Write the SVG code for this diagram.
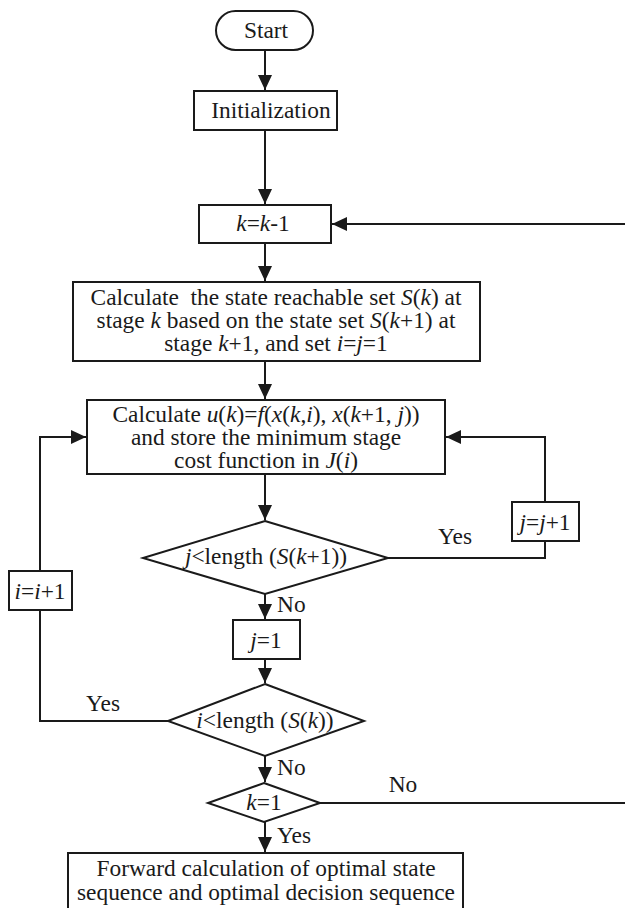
<svg xmlns="http://www.w3.org/2000/svg" width="625" height="908" viewBox="0 0 625 908">
<style>
text{font-family:"Liberation Serif","Times New Roman",serif;font-size:23.4px;fill:#1a1a1a;text-anchor:middle;white-space:pre}
.i{font-style:italic}
.s{fill:#fff;stroke:#1a1a1a;stroke-width:2}
.c{fill:none;stroke:#1a1a1a;stroke-width:2}
.l{text-anchor:start}
</style>
<defs>
<marker id="a" markerUnits="userSpaceOnUse" markerWidth="16" markerHeight="14" refX="15" refY="7" orient="auto">
<path d="M0,0 L15,7 L0,14 z" fill="#1a1a1a"/>
</marker>
</defs>
<rect width="625" height="908" fill="#fff"/>
<g id="connectors">
<path class="c" d="M265,50 V90" marker-end="url(#a)"/>
<path class="c" d="M265,130 V204" marker-end="url(#a)"/>
<path class="c" d="M265,243 V281" marker-end="url(#a)"/>
<path class="c" d="M265,361 V399" marker-end="url(#a)"/>
<path class="c" d="M265,474 V520" marker-end="url(#a)"/>
<path class="c" d="M265,593 V619" marker-end="url(#a)"/>
<path class="c" d="M265,659 V683" marker-end="url(#a)"/>
<path class="c" d="M265,756 V782" marker-end="url(#a)"/>
<path class="c" d="M265,822 V852" marker-end="url(#a)"/>
<path class="c" d="M388,558 H545 V541"/>
<path class="c" d="M545,502 V437 H446" marker-end="url(#a)"/>
<path class="c" d="M168,721 H40 V610"/>
<path class="c" d="M40,571 V437 H86" marker-end="url(#a)"/>
<path class="c" d="M320,803 H630 V224 H332" marker-end="url(#a)"/>
<text x="455" y="544">Yes</text>
<text class="l" x="277" y="612">No</text>
<text x="103" y="711">Yes</text>
<text class="l" x="277" y="775">No</text>
<text x="403" y="792">No</text>
<text class="l" x="277" y="843">Yes</text>
</g>
<g id="start">
<rect class="s" x="216" y="11" width="97" height="39" rx="19.5"/>
<text x="266" y="38">Start</text>
</g>
<g id="init">
<rect class="s" x="194" y="91" width="143" height="39"/>
<text x="271" y="118">Initialization</text>
</g>
<g id="kdec">
<rect class="s" x="199" y="205" width="132" height="38"/>
<text x="263" y="231"><tspan class="i">k</tspan>=<tspan class="i">k</tspan>-1</text>
</g>
<g id="reach">
<rect class="s" x="73" y="282" width="407" height="79"/>
<text x="276" y="305">Calculate  the state reachable set <tspan class="i">S</tspan>(<tspan class="i">k</tspan>) at</text>
<text x="276" y="328">stage <tspan class="i">k</tspan> based on the state set <tspan class="i">S</tspan>(<tspan class="i">k</tspan>+1) at</text>
<text x="276" y="351">stage <tspan class="i">k</tspan>+1, and set <tspan class="i">i</tspan>=<tspan class="i">j</tspan>=1</text>
</g>
<g id="calc">
<rect class="s" x="87" y="400" width="358" height="74"/>
<text x="266" y="422">Calculate <tspan class="i">u</tspan>(<tspan class="i">k</tspan>)=<tspan class="i">f</tspan>(<tspan class="i">x</tspan>(<tspan class="i">k</tspan>,<tspan class="i">i</tspan>), <tspan class="i">x</tspan>(<tspan class="i">k</tspan>+1, <tspan class="i">j</tspan>))</text>
<text x="266" y="445">and store the minimum stage</text>
<text x="266" y="468">cost function in <tspan class="i">J</tspan>(<tspan class="i">i</tspan>)</text>
</g>
<g id="dj">
<polygon class="s" points="265,521 388,558 265,594 143,558"/>
<text x="266" y="564"><tspan class="i">j</tspan>&lt;length (<tspan class="i">S</tspan>(<tspan class="i">k</tspan>+1))</text>
</g>
<g id="jinc">
<rect class="s" x="512" y="502" width="67" height="39"/>
<text x="545" y="530"><tspan class="i">j</tspan>=<tspan class="i">j</tspan>+1</text>
</g>
<g id="iinc">
<rect class="s" x="9" y="571" width="63" height="39"/>
<text x="40" y="599"><tspan class="i">i</tspan>=<tspan class="i">i</tspan>+1</text>
</g>
<g id="jone">
<rect class="s" x="233" y="620" width="67" height="39"/>
<text x="266" y="648"><tspan class="i">j</tspan>=1</text>
</g>
<g id="di">
<polygon class="s" points="265,684 364,721 265,756 168,721"/>
<text x="265" y="728"><tspan class="i">i</tspan>&lt;length (<tspan class="i">S</tspan>(<tspan class="i">k</tspan>))</text>
</g>
<g id="dk">
<polygon class="s" points="264,783 320,803 264,822 208,803"/>
<text x="264" y="810"><tspan class="i">k</tspan>=1</text>
</g>
<g id="forward">
<rect class="s" x="68" y="853" width="395" height="60"/>
<text x="266" y="876">Forward calculation of optimal state</text>
<text x="266" y="900">sequence and optimal decision sequence</text>
</g>
</svg>
